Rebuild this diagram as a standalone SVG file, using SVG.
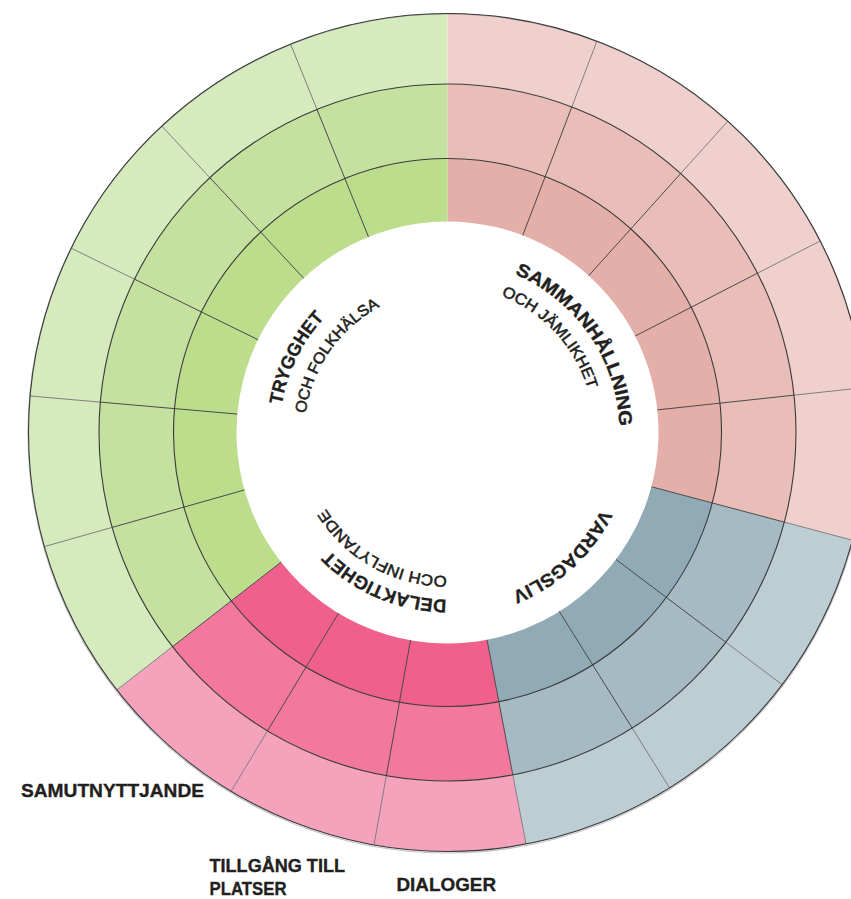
<svg xmlns="http://www.w3.org/2000/svg" width="851" height="899" viewBox="0 0 851 899">
<defs>
<style>
.ring{fill:none;stroke:#3a3a3a;stroke-width:1.1}
.div-in{stroke:#4a4a4a;stroke-width:1}
.div-out{stroke:#808080;stroke-width:1}
.title{font-family:"Liberation Sans",Arial,sans-serif;font-weight:700;font-size:18.5px;fill:#231f20;stroke:#231f20;stroke-width:0.35}
.sub{font-family:"Liberation Sans",Arial,sans-serif;font-weight:400;font-size:15.5px;fill:#231f20;stroke:#231f20;stroke-width:0.55}
.label{font-family:"Liberation Sans",Arial,sans-serif;font-weight:700;font-size:18.5px;fill:#231f20;stroke:#231f20;stroke-width:0.35}
</style>
<path id="p168" d="M447.5,264.5 A168,168 0 1 1 447.5,600.5 A168,168 0 1 1 447.5,264.5"/>
<path id="p143" d="M447.5,289.5 A143,143 0 1 1 447.5,575.5 A143,143 0 1 1 447.5,289.5"/>
<path id="p172" d="M447.5,260.5 A172,172 0 1 1 447.5,604.5 A172,172 0 1 1 447.5,260.5"/>
<path id="p147" d="M447.5,285.5 A147,147 0 1 1 447.5,579.5 A147,147 0 1 1 447.5,285.5"/>
<path id="p167" d="M447.5,265.5 A167,167 0 1 1 447.5,599.5 A167,167 0 1 1 447.5,265.5"/>
<path id="p1435" d="M447.5,289 A143.5,143.5 0 1 1 447.5,576 A143.5,143.5 0 1 1 447.5,289"/>
</defs>
<rect width="851" height="899" fill="#ffffff"/>

<g id="sammanhallning">
<path fill="#f0d0cd" d="M447.5,13.5 A419,419 0 0 1 852.42,540.22 L784.29,522.10 A348.5,348.5 0 0 0 447.5,84 Z"/>
<path fill="#e9beb9" d="M447.5,84 A348.5,348.5 0 0 1 784.29,522.10 L712.29,502.95 A274,274 0 0 0 447.5,158.5 Z"/>
<path fill="#e4afa9" d="M447.5,158.5 A274,274 0 0 1 712.29,502.95 L651.41,486.75 A211,211 0 0 0 447.5,221.5 Z"/>
</g>
<g id="vardagsliv">
<path fill="#bccdd4" d="M852.42,540.22 A419,419 0 0 1 526.02,844.08 L512.81,774.83 A348.5,348.5 0 0 0 784.29,522.10 Z"/>
<path fill="#a5bac3" d="M784.29,522.10 A348.5,348.5 0 0 1 512.81,774.83 L498.85,701.65 A274,274 0 0 0 712.29,502.95 Z"/>
<path fill="#90abb6" d="M712.29,502.95 A274,274 0 0 1 498.85,701.65 L487.04,639.77 A211,211 0 0 0 651.41,486.75 Z"/>
</g>
<g id="delaktighet">
<path fill="#f5a3bd" d="M526.02,844.08 A419,419 0 0 1 116.87,689.89 L172.50,646.58 A348.5,348.5 0 0 0 512.81,774.83 Z"/>
<path fill="#f3789e" d="M512.81,774.83 A348.5,348.5 0 0 1 172.50,646.58 L231.29,600.82 A274,274 0 0 0 498.85,701.65 Z"/>
<path fill="#f0608c" d="M498.85,701.65 A274,274 0 0 1 231.29,600.82 L281.00,562.12 A211,211 0 0 0 487.04,639.77 Z"/>
</g>
<g id="trygghet">
<path fill="#d5eabd" d="M116.87,689.89 A419,419 0 0 1 447.5,13.5 L447.5,84 A348.5,348.5 0 0 0 172.50,646.58 Z"/>
<path fill="#c5e1a0" d="M172.50,646.58 A348.5,348.5 0 0 1 447.5,84 L447.5,158.5 A274,274 0 0 0 231.29,600.82 Z"/>
<path fill="#bbdd8c" d="M231.29,600.82 A274,274 0 0 1 447.5,158.5 L447.5,221.5 A211,211 0 0 0 281.00,562.12 Z"/>
</g>

<g id="dividers">
<g class="div-in">
<line x1="522.76" y1="235.38" x2="571.81" y2="106.93"/>
<line x1="588.68" y1="275.71" x2="680.68" y2="173.53"/>
<line x1="635.16" y1="336.05" x2="757.46" y2="273.20"/>
<line x1="657.28" y1="409.90" x2="793.98" y2="395.18"/>
<line x1="651.41" y1="486.75" x2="784.29" y2="522.10"/>
<line x1="616.00" y1="559.48" x2="725.81" y2="642.23"/>
<line x1="559.31" y1="611.43" x2="632.17" y2="728.03"/>
<line x1="487.04" y1="639.77" x2="512.81" y2="774.83"/>
<line x1="410.49" y1="640.23" x2="386.37" y2="775.60"/>
<line x1="338.52" y1="613.18" x2="267.50" y2="730.92"/>
<line x1="281.00" y1="562.12" x2="172.50" y2="646.58"/>
<line x1="244.48" y1="489.96" x2="112.17" y2="527.40"/>
<line x1="237.30" y1="414.10" x2="100.32" y2="402.11"/>
<line x1="258.02" y1="339.68" x2="134.55" y2="279.19"/>
<line x1="303.60" y1="278.17" x2="209.82" y2="177.61"/>
<line x1="368.46" y1="236.86" x2="316.95" y2="109.37"/>
</g>
<g class="div-out">
<line x1="571.81" y1="106.93" x2="596.96" y2="41.07"/>
<line x1="680.68" y1="173.53" x2="727.85" y2="121.14"/>
<line x1="757.46" y1="273.20" x2="820.16" y2="240.98"/>
<line x1="793.98" y1="395.18" x2="864.07" y2="387.63"/>
<line x1="784.29" y1="522.10" x2="852.42" y2="540.22"/>
<line x1="725.81" y1="642.23" x2="782.11" y2="684.65"/>
<line x1="632.17" y1="728.03" x2="669.53" y2="787.81"/>
<line x1="512.81" y1="774.83" x2="526.02" y2="844.08"/>
<line x1="386.37" y1="775.60" x2="374.01" y2="845.01"/>
<line x1="267.50" y1="730.92" x2="231.09" y2="791.29"/>
<line x1="172.50" y1="646.58" x2="116.87" y2="689.89"/>
<line x1="112.17" y1="527.40" x2="44.34" y2="546.59"/>
<line x1="100.32" y1="402.11" x2="30.09" y2="395.96"/>
<line x1="134.55" y1="279.19" x2="71.24" y2="248.18"/>
<line x1="209.82" y1="177.61" x2="161.74" y2="126.04"/>
<line x1="316.95" y1="109.37" x2="290.54" y2="44.00"/>
</g>
<circle class="ring" cx="447.5" cy="432.5" r="274"/>
<circle class="ring" cx="447.5" cy="432.5" r="348.5"/>
<circle cx="447.5" cy="433.5" r="419.5" fill="none" stroke="#9a9a9a" stroke-width="1.2" opacity="0.6"/>
<circle class="ring" cx="447.5" cy="432.5" r="419"/>
</g>

<g id="titles">
<text class="title"><textPath href="#p168" startOffset="819.5" textLength="98" lengthAdjust="spacingAndGlyphs">TRYGGHET</textPath></text>
<text class="sub"><textPath href="#p143" startOffset="692.6" textLength="135" lengthAdjust="spacingAndGlyphs">OCH FOLKHÄLSA</textPath></text>
<text class="title"><textPath href="#p172" startOffset="69" textLength="195" lengthAdjust="spacingAndGlyphs">SAMMANHÅLLNING</textPath></text>
<text class="sub"><textPath href="#p147" startOffset="55" textLength="132" lengthAdjust="spacingAndGlyphs">OCH JÄMLIKHET</textPath></text>
<text class="title"><textPath href="#p172" startOffset="349.7" textLength="124.5" lengthAdjust="spacingAndGlyphs">VARDAGSLIV</textPath></text>
<text class="title"><textPath href="#p167" startOffset="525.5" textLength="130" lengthAdjust="spacingAndGlyphs">DELAKTIGHET</textPath></text>
<text class="sub"><textPath href="#p1435" startOffset="451.3" textLength="144.5" lengthAdjust="spacingAndGlyphs">OCH INFLYTANDE</textPath></text>
</g>

<g id="labels">
<text class="label" x="21" y="797" textLength="183" lengthAdjust="spacingAndGlyphs">SAMUTNYTTJANDE</text>
<text class="label" x="209.5" y="871.5" textLength="135.5" lengthAdjust="spacingAndGlyphs">TILLGÅNG TILL</text>
<text class="label" x="209.5" y="894.5" textLength="77" lengthAdjust="spacingAndGlyphs">PLATSER</text>
<text class="label" x="396.5" y="890.5" textLength="99.5" lengthAdjust="spacingAndGlyphs">DIALOGER</text>
</g>
</svg>
